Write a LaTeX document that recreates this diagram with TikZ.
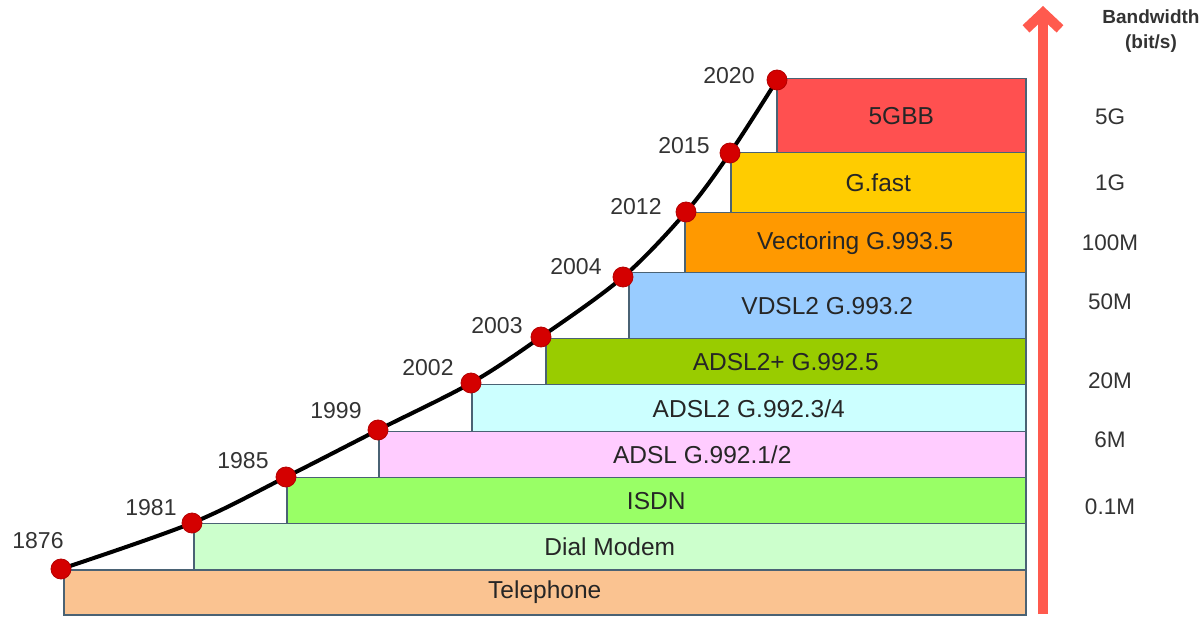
\documentclass[tikz,border=0pt]{standalone}
\usepackage{fontspec}
\setmainfont{Liberation Sans}
\usepackage{xcolor}
\usetikzlibrary{arrows.meta}

\definecolor{edgegray}{HTML}{4A6274}
\definecolor{dotred}{HTML}{D40000}
\definecolor{arrowred}{HTML}{FF5A4E}
\definecolor{telcol}{HTML}{FAC391}
\definecolor{dialcol}{HTML}{CCFFCC}
\definecolor{isdncol}{HTML}{99FF66}
\definecolor{adslcol}{HTML}{FFCCFF}
\definecolor{adsltwocol}{HTML}{CCFFFF}
\definecolor{adslpluscol}{HTML}{99CC00}
\definecolor{vdslcol}{HTML}{99CCFF}
\definecolor{vectcol}{HTML}{FF9900}
\definecolor{gfastcol}{HTML}{FFCC00}
\definecolor{fivegcol}{HTML}{FF5050}

\tikzset{
  band/.style={draw=edgegray, line width=1.5pt, anchor=north west, inner sep=0pt,
    text=black!85, font=\fontsize{24.5}{28}\selectfont},
  yr/.style={text=black!80, font=\fontsize{23}{26}\selectfont},
  rate/.style={text=black!80, font=\fontsize{22.5}{25}\selectfont},
  dot/.style={circle, fill=dotred, draw=dotred!85!black, line width=0.8pt,
    inner sep=0pt, minimum size=20pt},
}

\begin{document}
\begin{tikzpicture}[x=1pt, y=-1pt]
      \useasboundingbox (0,0) rectangle (1203,617);
      % technology bands
      \node[band, fill=telcol, minimum width=962pt, minimum height=45pt] (tel) at (63,569) {Telephone};
      \node[band, fill=dialcol, minimum width=832pt, minimum height=46pt] (dial) at (193,523) {Dial Modem};
      \node[band, fill=isdncol, minimum width=739pt, minimum height=46pt] (isdn) at (286,477) {ISDN};
      \node[band, fill=adslcol, minimum width=647pt, minimum height=46pt] (adsl) at (378,431) {ADSL G.992.1/2};
      \node[band, fill=adsltwocol, minimum width=554pt, minimum height=47pt] (adsltwo) at (471,384) {ADSL2 G.992.3/4};
      \node[band, fill=adslpluscol, minimum width=480pt, minimum height=46pt] (adslplus) at (545,338) {ADSL2+ G.992.5};
      \node[band, fill=vdslcol, minimum width=397pt, minimum height=66pt] (vdsl) at (628,272) {VDSL2 G.993.2};
      \node[band, fill=vectcol, minimum width=341pt, minimum height=60pt] (vect) at (684,212) {Vectoring G.993.5};
      \node[band, fill=gfastcol, minimum width=295pt, minimum height=60pt] (gfast) at (730,152) {G.fast};
      \node[band, fill=fivegcol, minimum width=249pt, minimum height=74pt] (fiveg) at (776,78) {5GBB};
      % milestones
      \coordinate (p1876) at (61,569);
      \coordinate (p1981) at (192,523);
      \coordinate (p1985) at (286,477);
      \coordinate (p1999) at (378,430);
      \coordinate (p2002) at (471,383);
      \coordinate (p2003) at (541,337);
      \coordinate (p2004) at (623,277);
      \coordinate (p2012) at (686,212);
      \coordinate (p2015) at (730,153);
      \coordinate (p2020) at (777,80);
      \draw[line width=4pt, black] plot[smooth, tension=0.55] coordinates
        {(p1876) (p1981) (p1985) (p1999) (p2002) (p2003) (p2004) (p2012) (p2015) (p2020)};
      \node[dot] (d1876) at (p1876) {};
      \node[dot] (d1981) at (p1981) {};
      \node[dot] (d1985) at (p1985) {};
      \node[dot] (d1999) at (p1999) {};
      \node[dot] (d2002) at (p2002) {};
      \node[dot] (d2003) at (p2003) {};
      \node[dot] (d2004) at (p2004) {};
      \node[dot] (d2012) at (p2012) {};
      \node[dot] (d2015) at (p2015) {};
      \node[dot] (d2020) at (p2020) {};
      \node[yr] (y1876) at (38,541) {1876};
      \node[yr] (y1981) at (151,508) {1981};
      \node[yr] (y1985) at (243,461) {1985};
      \node[yr] (y1999) at (336,411) {1999};
      \node[yr] (y2002) at (428,368) {2002};
      \node[yr] (y2003) at (497,326) {2003};
      \node[yr] (y2004) at (576,267) {2004};
      \node[yr] (y2012) at (636,207) {2012};
      \node[yr] (y2015) at (684,146) {2015};
      \node[yr] (y2020) at (729,76) {2020};
      % bandwidth axis
      \coordinate (abot) at (1043,614);
      \coordinate (atop) at (1043,6);
      \draw[arrowred, line width=10pt, -{Straight Barb[length=16pt, width=34pt]}] (abot) -- (atop);
      \node[rate, font=\bfseries\fontsize{19}{25}\selectfont, align=center] (bw) at (1151,31) {Bandwidth\\(bit/s)};
      \node[rate] (r5g) at (1110,117) {5G};
      \node[rate] (r1g) at (1110,183) {1G};
      \node[rate] (r100m) at (1110,243) {100M};
      \node[rate] (r50m) at (1110,302) {50M};
      \node[rate] (r20m) at (1110,381) {20M};
      \node[rate] (r6m) at (1110,440) {6M};
      \node[rate] (r01m) at (1110,507) {0.1M};
    \end{tikzpicture}
\end{document}
